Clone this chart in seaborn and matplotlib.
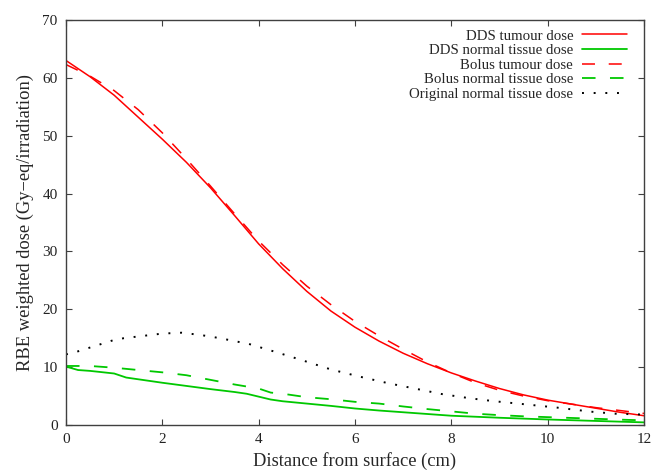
import matplotlib
matplotlib.use("Agg")
import matplotlib.pyplot as plt
import seaborn as sns
import numpy as np

# data (distance in cm, dose in Gy-eq/irradiation)
x_tumour = [0, 0.5, 1, 1.5, 2, 2.5, 3, 3.5, 4, 4.5, 5, 5.5, 6, 6.5, 7, 7.5, 8, 8.5, 9, 9.5, 10, 10.5, 11, 11.5, 12]
dds_tumour = [63.0, 60.2, 57.0, 53.2, 49.4, 45.4, 41.0, 36.2, 31.3, 27.0, 23.1, 19.7, 16.9, 14.5, 12.4, 10.6, 9.0, 7.6, 6.3, 5.2, 4.3, 3.6, 2.9, 2.2, 1.6]
bolus_tumour = [62.3, 60.3, 57.8, 54.5, 50.5, 46.0, 41.3, 36.5, 31.8, 27.7, 24.0, 20.8, 17.9, 15.4, 13.1, 10.9, 9.0, 7.3, 6.0, 5.0, 4.2, 3.6, 3.0, 2.5, 2.0]

x_dds_normal = [0, 0.25, 0.5, 1, 1.25, 1.5, 2, 2.5, 3, 3.5, 3.75, 4, 4.25, 4.5, 5, 5.5, 6, 6.5, 7, 7.5, 8, 9, 10, 11, 12]
dds_normal = [10.1, 9.5, 9.35, 8.9, 8.2, 7.9, 7.3, 6.75, 6.2, 5.7, 5.4, 4.9, 4.4, 4.1, 3.7, 3.3, 2.85, 2.5, 2.2, 1.9, 1.6, 1.25, 0.95, 0.7, 0.45]

x_bolus_normal = [0, 0.5, 1, 1.5, 2, 2.5, 3, 3.5, 4, 4.25, 4.5, 5, 5.5, 6, 6.5, 7, 7.5, 8, 8.5, 9, 9.5, 10.2, 10.9, 11.6, 12]
bolus_normal = [10.2, 10.2, 9.9, 9.5, 9.1, 8.6, 7.8, 7.0, 6.3, 5.6, 5.4, 4.8, 4.45, 4.0, 3.7, 3.2, 2.75, 2.35, 1.95, 1.7, 1.5, 1.3, 1.1, 0.9, 0.8]

x_original = [0, 0.2, 0.6, 1, 1.2, 1.6, 2, 2.4, 2.8, 3.2, 3.8, 4.4, 4.9, 5.5, 6.1, 6.7, 7.3, 7.8, 8.4, 8.9, 9.5, 10.2, 10.9, 11.4, 12]
original_normal = [12.2, 12.6, 13.65, 14.7, 15.0, 15.4, 15.8, 15.95, 15.55, 15.0, 14.0, 12.5, 11.2, 9.6, 8.35, 7.2, 6.2, 5.35, 4.6, 4.1, 3.6, 3.0, 2.3, 1.95, 1.8]

sns.set_style("ticks")
plt.rcParams['font.family'] = ['Liberation Serif', 'DejaVu Serif']
plt.rcParams['axes.edgecolor'] = '#404040'
plt.rcParams['xtick.color'] = '#404040'
plt.rcParams['ytick.color'] = '#404040'
plt.rcParams['xtick.labelcolor'] = '#222222'
plt.rcParams['ytick.labelcolor'] = '#222222'

red = '#ff0000'
green = '#00c800'

fig = plt.figure(figsize=(6.54, 4.71), dpi=100)
ax = fig.add_axes([0.1009, 0.0977, 0.8838, 0.8598])

sns.lineplot(x=x_tumour, y=dds_tumour, color=red, lw=1.1, ax=ax, label='DDS tumour dose')
sns.lineplot(x=x_dds_normal, y=dds_normal, color=green, lw=1.3, ax=ax, label='DDS normal tissue dose')
sns.lineplot(x=x_tumour, y=bolus_tumour, color=red, lw=1.1, ax=ax, label='Bolus tumour dose',
             linestyle=(0, (8.5, 9)))
sns.lineplot(x=x_bolus_normal, y=bolus_normal, color=green, lw=1.3, ax=ax, label='Bolus normal tissue dose',
             linestyle=(0, (7.5, 8)))
sns.lineplot(x=x_original, y=original_normal, color='black', lw=1.4, ax=ax, label='Original normal tissue dose',
             linestyle=(0, (1, 5)))

ax.set_xlim(0, 12)
ax.set_ylim(0, 70)
ax.set_xticks(np.arange(0, 13, 2))
ax.set_yticks(np.arange(0, 71, 10))
ax.tick_params(direction='in', length=4, width=0.8, top=True, right=True, labelsize=11, pad=6)
for s in ax.spines.values():
    s.set_linewidth(1.0)

ax.set_xlabel('Distance from surface (cm)', fontsize=13.3, labelpad=4)
ax.set_ylabel('RBE weighted dose (Gy\u2212eq/irradiation)', fontsize=13.3, labelpad=6)

# gnuplot-style key: labels right-aligned, sample lines to their right
ax.legend(loc='upper right', frameon=False, markerfirst=False, fontsize=10.7,
          handlelength=3.0, handletextpad=0.6, labelspacing=0.08,
          borderaxespad=0.3, bbox_to_anchor=(0.988, 1.003))

fig.savefig('out.png', dpi=100)
